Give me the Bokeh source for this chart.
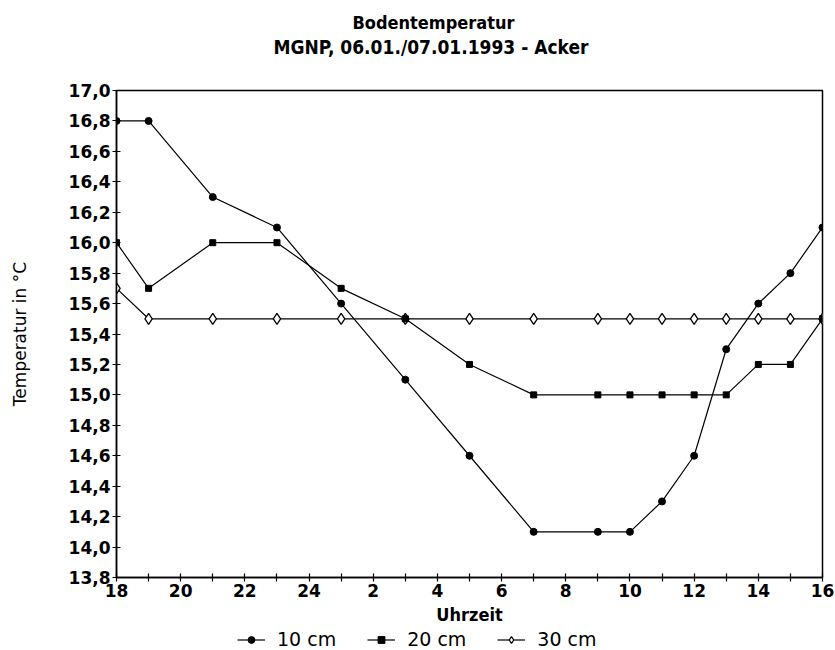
from bokeh.plotting import figure
from bokeh.layouts import column
from bokeh.models import FixedTicker, Title, Legend, LegendItem, Range1d
from bokeh.embed import file_html
from bokeh.resources import INLINE

# --- data -------------------------------------------------------------
# measuring times as continuous hours (18 = 18:00 on 06.01., 40 = 16:00 on 07.01.)
hours = [18, 19, 21, 23, 25, 27, 29, 31, 33, 34, 35, 36, 37, 38, 39, 40]
temp_10cm = [16.8, 16.8, 16.3, 16.1, 15.6, 15.1, 14.6, 14.1, 14.1, 14.1, 14.3, 14.6, 15.3, 15.6, 15.8, 16.1]
temp_20cm = [16.0, 15.7, 16.0, 16.0, 15.7, 15.5, 15.2, 15.0, 15.0, 15.0, 15.0, 15.0, 15.0, 15.2, 15.2, 15.5]
temp_30cm = [15.7, 15.5, 15.5, 15.5, 15.5, 15.5, 15.5, 15.5, 15.5, 15.5, 15.5, 15.5, 15.5, 15.5, 15.5, 15.5]

x_ticks = [18, 20, 22, 24, 26, 28, 30, 32, 34, 36, 38, 40]
x_tick_labels = ["18", "20", "22", "24", "2", "4", "6", "8", "10", "12", "14", "16"]
x_minor_ticks = [19, 21, 23, 25, 27, 29, 31, 33, 35, 37, 39]
y_ticks = [13.8, 14.0, 14.2, 14.4, 14.6, 14.8, 15.0, 15.2, 15.4, 15.6, 15.8,
           16.0, 16.2, 16.4, 16.6, 16.8, 17.0]
y_tick_labels = ["13,8", "14,0", "14,2", "14,4", "14,6", "14,8", "15,0", "15,2", "15,4",
                 "15,6", "15,8", "16,0", "16,2", "16,4", "16,6", "16,8", "17,0"]

title_text = "Bodentemperatur"
subtitle_text = "MGNP, 06.01./07.01.1993 - Acker"
series_labels = ["10 cm", "20 cm", "30 cm"]
series_values = [temp_10cm, temp_20cm, temp_30cm]

# --- styles -----------------------------------------------------------
TICK_FONT = "DejaVu Sans"
COND_FONT = "DejaVu Sans Condensed"
STYLE_10 = dict(marker="circle", size=7, fill_color="black", line_color="black")
STYLE_20 = dict(marker="square", size=6, fill_color="black", line_color="black")
STYLE_30 = dict(marker="diamond", size=11, fill_color="white", line_color="black", line_width=1.3)
STYLES = [STYLE_10, STYLE_20, STYLE_30]

# --- main figure ------------------------------------------------------
p = figure(width=835, height=628,
           x_range=Range1d(18, 40), y_range=Range1d(13.8, 17.0),
           output_backend="svg", toolbar_location=None,
           min_border_left=116, min_border_right=13,
           min_border_top=90, min_border_bottom=51)

p.xgrid.visible = False
p.ygrid.visible = False
p.outline_line_color = "black"
p.outline_line_width = 1.5
p.background_fill_color = "white"
p.border_fill_color = "white"

# x axis
xa = p.xaxis[0]
xa.ticker = FixedTicker(ticks=x_ticks, minor_ticks=x_minor_ticks)
xa.major_label_overrides = dict(zip(x_ticks, x_tick_labels))
xa.major_tick_in = 4
xa.major_tick_out = 4
xa.minor_tick_in = 4
xa.minor_tick_out = 4
xa.axis_line_width = 1.5
xa.major_tick_line_width = 1.2
xa.minor_tick_line_width = 1.2
xa.major_label_standoff = 2
xa.major_label_text_font = TICK_FONT
xa.major_label_text_font_style = "bold"
xa.major_label_text_font_size = "17px"
xa.major_label_text_color = "black"
xa.axis_label = "Uhrzeit"
xa.axis_label_text_font = COND_FONT
xa.axis_label_text_font_style = "bold"
xa.axis_label_text_font_size = "18px"
xa.axis_label_text_color = "black"
xa.axis_label_standoff = 4

# y axis
ya = p.yaxis[0]
ya.ticker = FixedTicker(ticks=y_ticks, minor_ticks=[])
ya.major_label_overrides = dict(zip(y_ticks, y_tick_labels))
ya.major_tick_in = 4
ya.major_tick_out = 4
ya.axis_line_width = 1.5
ya.major_tick_line_width = 1.2
ya.major_label_standoff = 2
ya.major_label_text_font = TICK_FONT
ya.major_label_text_font_style = "bold"
ya.major_label_text_font_size = "17px"
ya.major_label_text_color = "black"
ya.axis_label = "Temperatur in °C"
ya.axis_label_text_font = TICK_FONT
ya.axis_label_text_font_style = "normal"
ya.axis_label_text_font_size = "17px"
ya.axis_label_text_color = "black"
ya.axis_label_standoff = 36

# series (30 cm first so the deeper series lie underneath)
for vals, style in reversed(list(zip(series_values, STYLES))):
    p.line(hours, vals, line_color="black", line_width=1.2)
    p.scatter(hours, vals, **style)

# titles (panels stack upward from the frame)
p.add_layout(Title(text=" ", text_font_size="10px", standoff=19), "above")  # gap
p.add_layout(Title(text=subtitle_text, align="left", offset=157, standoff=2,
                   text_font=COND_FONT, text_font_style="bold",
                   text_font_size="19px", text_color="black"), "above")
p.add_layout(Title(text=title_text, align="left", offset=236, standoff=0,
                   text_font=COND_FONT, text_font_style="bold",
                   text_font_size="18px", text_color="black"), "above")

# --- legend strip below the chart ---------------------------------------
# its ranges lie outside the data, so only the legend samples are visible
pl = figure(width=835, height=22, x_axis_type=None, y_axis_type=None,
            x_range=Range1d(0, 1), y_range=Range1d(0, 1),
            output_backend="svg", toolbar_location=None, min_border=0,
            min_border_left=0, min_border_right=0, min_border_top=0, min_border_bottom=0)
pl.outline_line_color = None
pl.background_fill_color = "white"
pl.border_fill_color = "white"

legend_renderers = []
for vals, style in zip(series_values, STYLES):
    lr = pl.line(hours, vals, line_color="black", line_width=1.2)
    sr = pl.scatter(hours, vals, **style)
    legend_renderers.append([lr, sr])

legend = Legend(items=[LegendItem(label=lab, renderers=rs)
                       for lab, rs in zip(series_labels, legend_renderers)],
                orientation="horizontal", location=(121, 0),
                border_line_color=None, background_fill_alpha=0,
                glyph_width=28, glyph_height=17, label_standoff=12, spacing=31,
                padding=0, margin=0, label_height=17,
                label_text_font=TICK_FONT, label_text_font_size="19px",
                label_text_color="black")
pl.add_layout(legend)

layout = column(p, pl, spacing=0)
open("out.html", "w").write(file_html(layout, INLINE))
